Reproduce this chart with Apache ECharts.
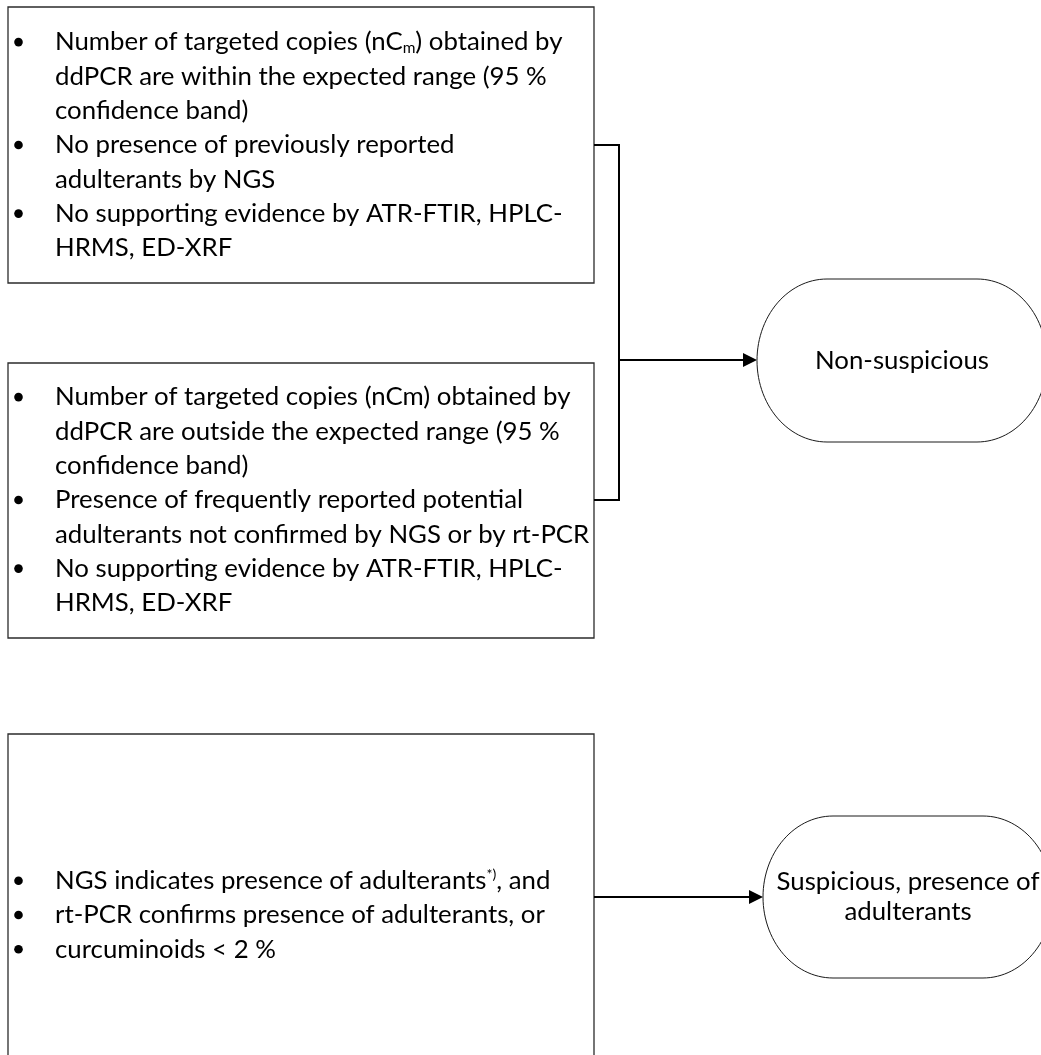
<!DOCTYPE html>
<html>
<head>
<meta charset="utf-8">
<script src="https://cdn.jsdelivr.net/npm/echarts@6/dist/echarts.min.js"></script>
<style>
html,body{margin:0;padding:0;background:#fff;}
#chart{width:1041px;height:1055px;}
</style>
</head>
<body>
<div id="chart"></div>
<script>
// ---- Content (text of the flowchart) ----
const box1Items = [
  ["Number of targeted copies (nC{sub|m}) obtained by", "ddPCR are within the expected range (95 %", "confidence band)"],
  ["No presence of previously reported", "adulterants by NGS"],
  ["No supporting evidence by ATR-FTIR, HPLC-", "HRMS, ED-XRF"]
];
const box2Items = [
  ["Number of targeted copies (nCm) obtained by", "ddPCR are outside the expected range (95 %", "confidence band)"],
  ["Presence of frequently reported potential", "adulterants not confirmed by NGS or by rt-PCR"],
  ["No supporting evidence by ATR-FTIR, HPLC-", "HRMS, ED-XRF"]
];
const box3Items = [
  ["NGS indicates presence of adulterants{sup|*)}, and"],
  ["rt-PCR confirms presence of adulterants, or"],
  ["curcuminoids < 2 %"]
];
const outcome1Lines = ["Non-suspicious"];
const outcome2Lines = ["Suspicious, presence of", "adulterants"];

// ---- Layout ----
const FONT = 'Lato';
const LINE_H = 34.3;
const boxes = [
  {items: box1Items, x: 8, y: 7, w: 586, h: 276, textCy: 145, bottom: true},
  {items: box2Items, x: 8, y: 363, w: 586, h: 275, textCy: 500, bottom: true},
  {items: box3Items, x: 8, y: 734, w: 586, h: 360, textCy: 915, bottom: false}
];

// fit font size so the widest line spans the measured width
const ctx = document.createElement('canvas').getContext('2d');
function widthAt(size, s) { ctx.font = size + 'px ' + FONT; return ctx.measureText(s).width; }
const refLine = "adulterants not confirmed by NGS or by rt-PCR";
let fs = 24;
for (let s = 18; s <= 30; s += 0.1) { if (widthAt(s, refLine) <= 535) fs = s; }

const graphics = [];
const boxStroke = '#2b2b2b';
const textFill = '#000';

boxes.forEach(b => {
  if (b.bottom) {
    graphics.push({type: 'rect', shape: {x: b.x, y: b.y, width: b.w, height: b.h},
      style: {fill: '#fff', stroke: boxStroke, lineWidth: 1.3}});
  } else {
    graphics.push({type: 'polyline', shape: {points: [[b.x, b.y + b.h], [b.x, b.y], [b.x + b.w, b.y], [b.x + b.w, b.y + b.h]]},
      style: {fill: null, stroke: boxStroke, lineWidth: 1.3}});
  }
  const lines = [];
  b.items.forEach(item => item.forEach((t, i) => lines.push({t, bullet: i === 0})));
  const n = lines.length;
  lines.forEach((ln, k) => {
    const cy = b.textCy + (k - (n - 1) / 2) * LINE_H;
    if (ln.bullet) {
      graphics.push({type: 'circle', shape: {cx: 18.5, cy: cy, r: 4.3}, style: {fill: '#000'}});
    }
    graphics.push({type: 'text', x: 55, y: cy,
      style: {text: ln.t, font: fs + 'px ' + FONT, fill: textFill, verticalAlign: 'middle', align: 'left',
        rich: {
          sub: {fontSize: fs * 0.6, fontFamily: FONT, fill: textFill, lineHeight: fs * 0.75, verticalAlign: 'bottom'},
          sup: {fontSize: fs * 0.55, fontFamily: FONT, fill: textFill, lineHeight: fs * 0.7, verticalAlign: 'top'}
        }}});
  });
});

// connectors
const conn = {stroke: '#000', lineWidth: 2};
graphics.push({type: 'polyline', shape: {points: [[594, 145], [619, 145], [619, 500], [594, 500]]}, style: Object.assign({fill: null}, conn)});
function arrow(x1, y, x2) {
  graphics.push({type: 'line', shape: {x1: x1, y1: y, x2: x2 - 12, y2: y}, style: conn});
  graphics.push({type: 'polygon', shape: {points: [[x2 - 14, y - 7], [x2, y], [x2 - 14, y + 7]]}, style: {fill: '#000'}});
}
arrow(619, 360, 757);
arrow(594, 897, 763);

// terminator shapes (flat top/bottom with elliptical ends)
function terminator(x, y, w, h, lines, textCx) {
  const rx = 70, ry = h / 2, cy = y + h / 2;
  const pts = [];
  const N = 60;
  // right end: from top (-90deg) to bottom (+90deg)
  for (let i = 0; i <= N; i++) {
    const a = -Math.PI / 2 + Math.PI * i / N;
    pts.push([x + w - rx + rx * Math.cos(a), cy + ry * Math.sin(a)]);
  }
  // left end: from bottom (90deg) to top (270deg)
  for (let i = 0; i <= N; i++) {
    const a = Math.PI / 2 + Math.PI * i / N;
    pts.push([x + rx + rx * Math.cos(a), cy + ry * Math.sin(a)]);
  }
  graphics.push({type: 'polygon', shape: {points: pts}, style: {fill: '#fff', stroke: '#1a1a1a', lineWidth: 1}});
  lines.forEach((t, k) => {
    graphics.push({type: 'text', x: textCx, y: cy + (k - (lines.length - 1) / 2) * 30,
      style: {text: t, font: fs + 'px ' + FONT, fill: textFill, align: 'center', verticalAlign: 'middle'}});
  });
}
terminator(757, 279, 290, 163, outcome1Lines, 902);
terminator(763, 816, 290, 162, outcome2Lines, 908);

const chart = echarts.init(document.getElementById('chart'), null, {renderer: 'canvas'});
chart.setOption({backgroundColor: '#fff', animation: false, graphic: graphics});
</script>
</body>
</html>
